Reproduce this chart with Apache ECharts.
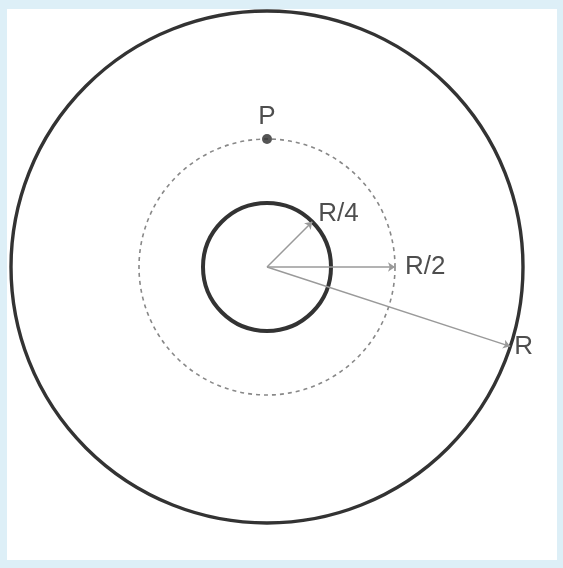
<!DOCTYPE html>
<html>
<head>
<meta charset="utf-8">
<script src="https://cdn.jsdelivr.net/npm/echarts@6/dist/echarts.min.js"></script>
<style>
  html, body { margin: 0; padding: 0; background: #ddeff7; }
  #main { width: 563px; height: 568px; }
</style>
</head>
<body>
<div id="main"></div>
<script>
// circles, radius in units of R
var circleRadii = [1, 0.5, 0.25];
var circleDashed = [false, true, false];

// arrows from the centre, end points in units of R
var arrowEnds = [[0.177, 0.177], [0.5, 0], [0.95, -0.31]];
var arrowLabels = ['R/4', 'R/2', 'R'];

// point P on the dashed circle
var pointP = [0, 0.5];
var pointLabel = 'P';

var chart = echarts.init(document.getElementById('main'));

var circleData = circleRadii.map(function (r, i) {
    return [0, 0, r, circleDashed[i] ? 1 : 0];
});

var arrowData = arrowEnds.map(function (p) {
    return { coords: [[0, 0], p] };
});

var labelData = arrowEnds.map(function (p, i) {
    return { value: p, name: arrowLabels[i] };
});

var font = 'Liberation Sans';
// small nudges so labels sit like the original
var labelShift = [[2, -8], [6, 0], [0, 0]];

chart.setOption({
    backgroundColor: '#ddeff7',
    animation: false,
    graphic: [{
        type: 'rect',
        shape: { x: 7, y: 9, width: 550, height: 551 },
        style: { fill: '#ffffff' },
        z: -10
    }],
    grid: { left: 11, top: 11, width: 512, height: 512 },
    xAxis: { type: 'value', min: -1, max: 1, show: false },
    yAxis: { type: 'value', min: -1, max: 1, show: false },
    series: [
        {
            type: 'custom',
            coordinateSystem: 'cartesian2d',
            data: circleData,
            renderItem: function (params, api) {
                var c = api.coord([api.value(0), api.value(1)]);
                var r = api.size([api.value(2), 0])[0];
                var dashed = api.value(3) === 1;
                return {
                    type: 'circle',
                    shape: { cx: c[0], cy: c[1], r: r },
                    style: dashed ? {
                        fill: 'none', stroke: '#888', lineWidth: 1.6, lineDash: [4, 4]
                    } : {
                        fill: 'none', stroke: '#333', lineWidth: r < 100 ? 4 : 3.4
                    }
                };
            }
        },
        {
            type: 'lines',
            coordinateSystem: 'cartesian2d',
            symbol: ['none', 'arrow'],
            symbolSize: 7,
            lineStyle: { color: '#9a9a9a', width: 1.5, opacity: 1 },
            data: arrowData,
            z: 3
        },
        {
            type: 'scatter',
            symbolSize: 0,
            data: labelData,
            label: {
                show: true,
                formatter: '{b}',
                fontFamily: font,
                fontSize: 26,
                color: '#222',
                position: 'right',
                distance: 4
            },
            labelLayout: function (params) {
                var s = labelShift[params.dataIndex];
                return { dx: s[0], dy: s[1] };
            },
            z: 4
        },
        {
            type: 'scatter',
            symbol: 'circle',
            symbolSize: 10,
            itemStyle: { color: '#2a2a2a' },
            data: [{ value: pointP, name: pointLabel }],
            label: {
                show: true,
                formatter: '{b}',
                fontFamily: font,
                fontSize: 26,
                color: '#222',
                position: 'top',
                distance: 4
            },
            z: 5
        }
    ]
});
</script>
</body>
</html>
